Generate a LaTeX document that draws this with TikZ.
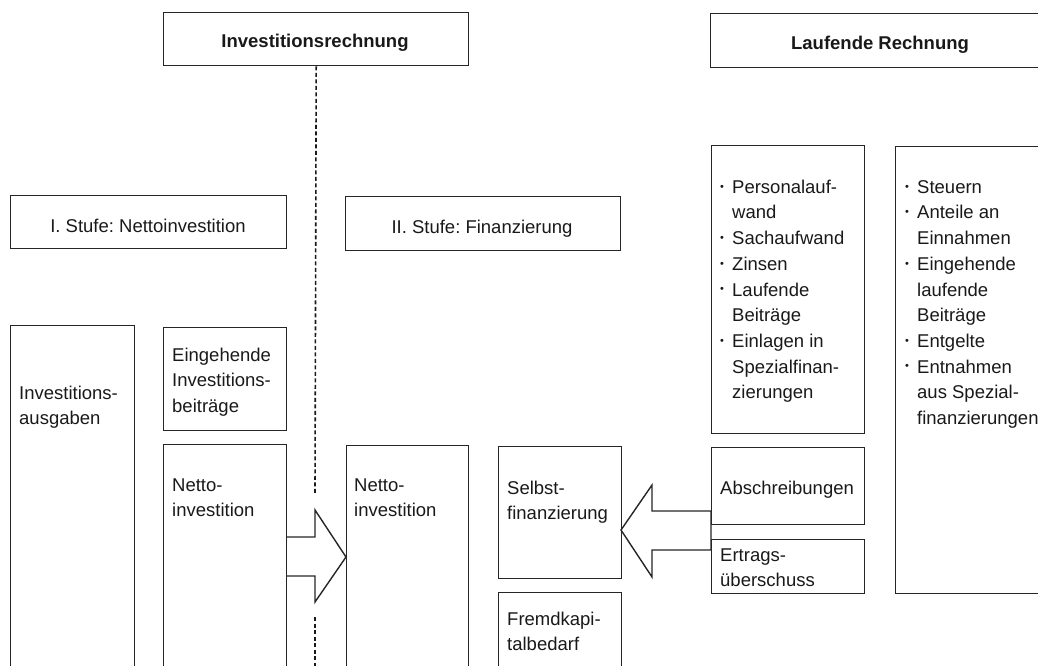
\documentclass[tikz,border=0pt]{standalone}
\usepackage{fontspec}
\setmainfont{Liberation Sans}
\frenchspacing
\newcommand{\fl}{\rule{0pt}{14pt}}
\newcommand{\bul}{\makebox[12pt][l]{\raisebox{3.2pt}{\fontsize{11}{11}\selectfont •}}}
\newcommand{\ind}{\hspace*{12pt}}
\begin{document}
\begin{tikzpicture}[x=1pt,y=-1pt,
  box/.style={draw=black!85, line width=1.4pt, inner sep=0pt, anchor=north west},
  txt/.style={anchor=north west, inner sep=0pt, align=left, text=black!90,
    font=\fontsize{18.5}{25.7}\selectfont},
  ttl/.style={anchor=base, inner sep=0pt, text=black!90,
    font=\bfseries\fontsize{18.5}{22}\selectfont},
  stl/.style={anchor=base, inner sep=0pt, text=black!90,
    font=\fontsize{18.5}{22}\selectfont},
  dashline/.style={draw=black!90, line width=1.6pt, dash pattern=on 4pt off 2.5pt},
  blockarrow/.style={draw=black!85, line width=1.4pt, fill=white, line join=miter}]
\useasboundingbox (0,0) rectangle (1038,665);
\clip (0,0) rectangle (1038,665);

% top boxes
\node[box, minimum width=305pt, minimum height=53pt] (inv) at (163,12) {};
\node[ttl] (invt) at (315,47) {Investitionsrechnung};
\node[box, minimum width=345pt, minimum height=54pt] (lauf) at (710,13) {};
\node[ttl] (lauft) at (880,49) {Laufende Rechnung};

% stage boxes
\node[box, minimum width=276pt, minimum height=53pt] (st1) at (10,195) {};
\node[stl] (st1t) at (148,232) {I. Stufe: Nettoinvestition};
\node[box, minimum width=275pt, minimum height=54pt] (st2) at (345,196) {};
\node[stl] (st2t) at (482,233) {II. Stufe: Finanzierung};

% dashed separator
\coordinate (d1) at (315,493);
\coordinate (d2) at (315,617);
\coordinate (d3) at (315,670);
\draw[dashline] (inv.south) -- (d1);
\draw[dashline] (d2) -- (d3);

% block arrows
\draw[blockarrow] (286,537) -- (315,537) -- (315,510) -- (346,557)
  -- (315,602) -- (315,576) -- (286,576);
\draw[blockarrow] (711,511) -- (652,511) -- (652,485) -- (621,530)
  -- (652,577) -- (652,550) -- (711,550) -- cycle;

% left part
\node[box, minimum width=124pt, minimum height=400pt] (ausg) at (10,325) {};
\node[txt] (ausgt) at (19,385) {\fl Investitions-\\ausgaben};
\node[box, minimum width=123pt, minimum height=103pt] (eing) at (163,327) {};
\node[txt] (eingt) at (172,347) {\fl Eingehende\\Investitions-\\beiträge};
\node[box, minimum width=123pt, minimum height=300pt] (lnet) at (163,444) {};
\node[txt] (lnett) at (172,477) {\fl Netto-\\investition};
\node[box, minimum width=122pt, minimum height=300pt] (rnet) at (346,445) {};
\node[txt] (rnett) at (354,477) {\fl Netto-\\investition};
\node[box, minimum width=123pt, minimum height=132pt] (selbst) at (498,446) {};
\node[txt] (selbstt) at (507,480) {\fl Selbst-\\finanzierung};
\node[box, minimum width=123pt, minimum height=200pt] (fremd) at (498,592) {};
\node[txt] (fremdt) at (507,611) {\fl Fremdkapi-\\talbedarf};

% right part
\node[box, minimum width=153pt, minimum height=288pt] (pers) at (711,145) {};
\node[txt] (perst) at (720,179) {\fl\bul Personalauf-\\\ind wand\\\bul Sachaufwand\\\bul Zinsen\\\bul Laufende\\\ind Beiträge\\\bul Einlagen in\\\ind Spezialfinan-\\\ind zierungen};
\node[box, minimum width=160pt, minimum height=447pt] (steu) at (895,146) {};
\node[txt] (steut) at (905,179) {\fl\bul Steuern\\\bul Anteile an\\\ind Einnahmen\\\bul Eingehende\\\ind laufende\\\ind Beiträge\\\bul Entgelte\\\bul Entnahmen\\\ind aus Spezial-\\\ind finanzierungen};
\node[box, minimum width=153pt, minimum height=77pt] (absch) at (711,447) {};
\node[txt] (abscht) at (720,480) {\fl Abschreibungen};
\node[box, minimum width=153pt, minimum height=54pt] (ertr) at (711,539) {};
\node[txt] (ertrt) at (720,547) {\fl Ertrags-\\überschuss};
\end{tikzpicture}
\end{document}
